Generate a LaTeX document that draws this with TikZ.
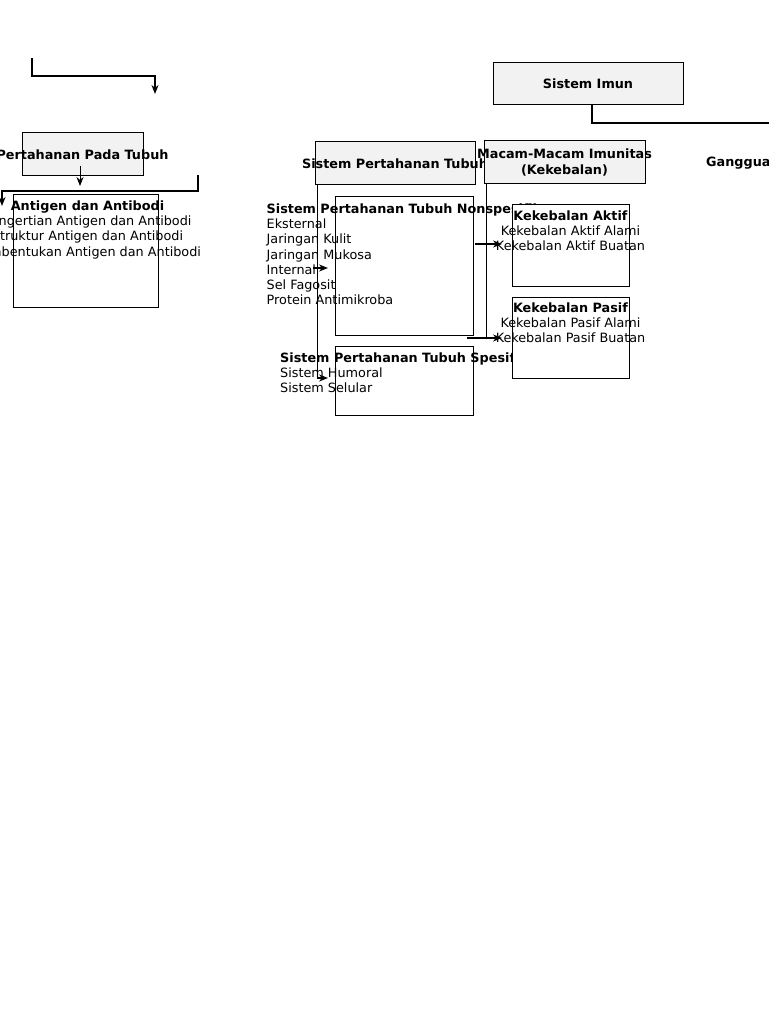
\documentclass[tikz,border=0pt]{standalone}
\usepackage{fontspec}
\setmainfont{DejaVu Sans}
\usetikzlibrary{positioning,arrows.meta}
\definecolor{boxgray}{RGB}{242,242,242}
\newcommand\dsize{\fontsize{12.8}{15.2}\selectfont}
\tikzset{
  gbox/.style={draw,line width=1pt,fill=boxgray,inner sep=0pt},
  wbox/.style={draw,line width=1pt,fill=white,inner sep=0pt},
  head/.style={font=\dsize\bfseries,inner sep=0pt},
  body/.style={font=\dsize,inner sep=0pt},
  conn/.style={line width=1.6pt},
}
\begin{document}
\begin{tikzpicture}[x=1pt,y=-1pt,line join=miter,>={Stealth[length=9pt,width=7pt]}]
\useasboundingbox (0,0) rectangle (768,1024);
\node[gbox,minimum width=190,minimum height=42] (imun) at (588,84) {};
\node[head] (imunT) at (imun) {Sistem Imun};
\node[gbox,minimum width=121,minimum height=43] (pertahanan) at (82.5,154.5) {};
\node[head] (pertahananT) at (pertahanan) {Pertahanan Pada Tubuh};
\node[gbox,minimum width=160,minimum height=43] (sistem) at (395,163.5) {};
\node[head] (sistemT) at (sistem) {Sistem Pertahanan Tubuh};
\node[gbox,minimum width=161,minimum height=43] (macam) at (564.5,162.5) {};
\node[head,align=center] (macamT) at (macam) {Macam-Macam Imunitas\\(Kekebalan)};
\node[head,anchor=west] (gangguanT) at (706,163) {Gangguan};
\node[wbox,minimum width=145,minimum height=112] (antigen) at (85.5,251) {};
\node[body,align=center,below=6pt of antigen.north,xshift=2pt] (antigenT) {\textbf{Antigen dan Antibodi}\\Pengertian Antigen dan Antibodi\\Struktur Antigen dan Antibodi\\Pembentukan Antigen dan Antibodi};
\node[wbox,minimum width=138,minimum height=138] (nonsp) at (404,266) {};
\node[body,align=left,below=7pt of nonsp.north] (nonspT) {\textbf{Sistem Pertahanan Tubuh Nonspesifik}\\Eksternal\\Jaringan Kulit\\Jaringan Mukosa\\Internal\\Sel Fagosit\\Protein Antimikroba};
\node[wbox,minimum width=138,minimum height=69] (spes) at (404,380.5) {};
\node[body,align=left,below=7pt of spes.north] (spesT) {\textbf{Sistem Pertahanan Tubuh Spesifik}\\Sistem Humoral\\Sistem Selular};
\node[wbox,minimum width=117,minimum height=81] (aktif) at (570.5,245.5) {};
\node[body,align=center,below=6pt of aktif.north] (aktifT) {\textbf{Kekebalan Aktif}\\Kekebalan Aktif Alami\\Kekebalan Aktif Buatan};
\node[wbox,minimum width=117,minimum height=81] (pasif) at (570.5,337.5) {};
\node[body,align=center,below=6pt of pasif.north] (pasifT) {\textbf{Kekebalan Pasif}\\Kekebalan Pasif Alami\\Kekebalan Pasif Buatan};
\coordinate (topStart) at (32,58);
\coordinate (topEnd) at (155,94);
\coordinate (antigenIn) at (80,186);
\coordinate (leftStart) at (198,175);
\coordinate (leftEnd) at (2,206);
\coordinate (nsOut) at (313,268);
\coordinate (nsIn) at (328,268);
\coordinate (spIn) at (328,378);
\coordinate (akOut) at (475,244);
\coordinate (akIn) at (502,244);
\coordinate (psOut) at (467,338);
\coordinate (psIn) at (502,338);
\coordinate (imunEnd) at (775,123);
\draw[conn,->] (topStart) -- ++(0,18) -| (topEnd);
\draw[line width=0.8pt,->] ([xshift=-2.5pt,yshift=10pt]pertahanan.south) -- (antigenIn);
\draw[conn,->] (leftStart) -- ++(0,16) -| (leftEnd);
\draw[conn,->] ([xshift=3pt]sistem.south west) |- (spIn);
\draw[conn,->] (nsOut) -- (nsIn);
\draw[conn] ([xshift=3pt]macam.south west) |- (psOut);
\draw[conn,->] (psOut) -- (psIn);
\draw[conn,->] (akOut) -- (akIn);
\draw[conn] ([xshift=4pt]imun.south) |- (imunEnd);
\end{tikzpicture}
\end{document}
